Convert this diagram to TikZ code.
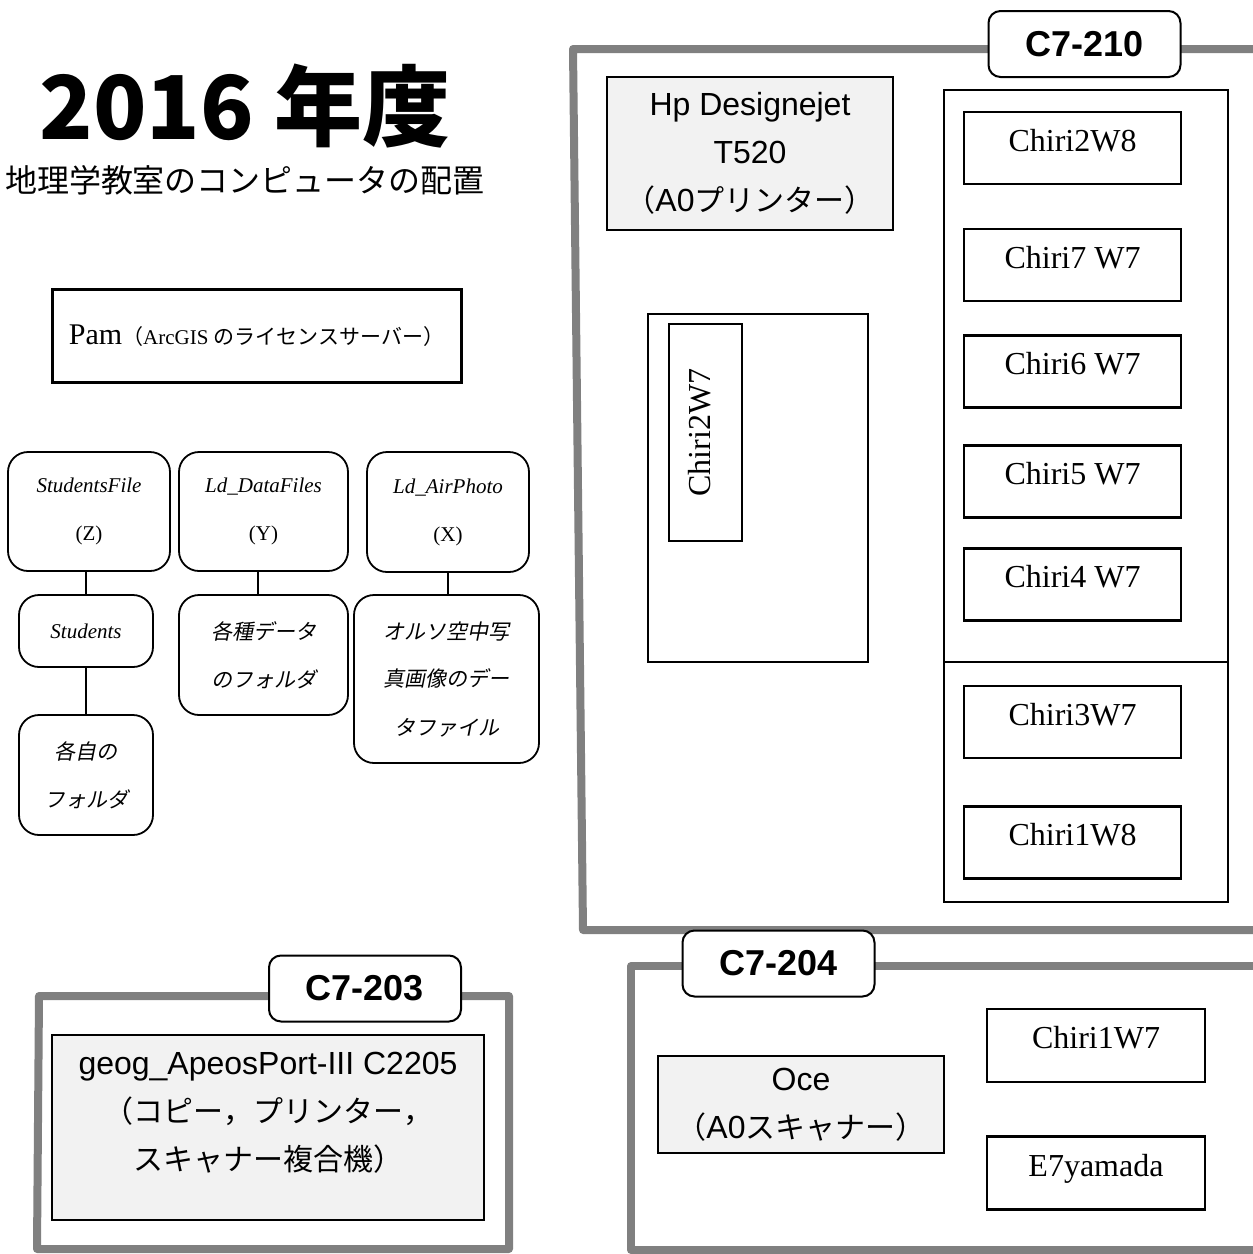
\documentclass[tikz,border=0pt]{standalone}
\usepackage{fontspec}
\setmainfont{Liberation Serif}
\setsansfont{Liberation Sans}
\newfontfamily\jp{Noto Sans CJK JP}
\newfontfamily\jpit[FakeSlant=0.2]{Noto Sans CJK JP}
\newcommand{\jpsmall}{\jp\fontsize{15}{24}\selectfont}
\definecolor{wallgray}{HTML}{808080}
\definecolor{boxgray}{HTML}{F2F2F2}

\begin{document}
\begin{tikzpicture}[x=0.5pt,y=-0.5pt,
	wall/.style={draw=wallgray,line width=4pt,line join=round},
	roomtag/.style={draw,fill=white,rounded corners=6pt,line width=1pt,minimum width=96pt,minimum height=33pt,font=\sffamily\bfseries\fontsize{18}{18}\selectfont},
	pc/.style={draw,line width=1.2pt,minimum width=108.5pt,minimum height=36pt,text depth=8pt,font=\fontsize{16}{16}\selectfont},
	device/.style={draw,fill=boxgray,line width=1pt,align=center,font=\sffamily\fontsize{16}{24}\selectfont},
	folder/.style={draw,rounded corners=10pt,line width=0.9pt,align=center,font=\itshape\fontsize{10.5}{24}\selectfont},
	link/.style={line width=0.9pt}]
	
	\useasboundingbox (0,0) rectangle (1253,1254);
	
	\node[font=\jp\bfseries\fontsize{44}{44}\selectfont] (title) at (245,106) {2016 年度};
	\node[font=\jp\fontsize{16}{16}\selectfont] (subtitle) at (245,180) {地理学教室のコンピュータの配置};
	
	\node[draw,line width=1.5pt,minimum width=204.5pt,minimum height=46.5pt] (pam) at (256.5,335.5)
	{{\fontsize{15}{15}\selectfont Pam}\fontsize{10.5}{10.5}\selectfont{\jp （}ArcGIS {\jp のライセンスサーバー）}};
	
	\node[folder,minimum width=81pt,minimum height=59.5pt] (sfile) at (89,511.5) {StudentsFile\\{\upshape (Z)}};
	\node[folder,minimum width=84.5pt,minimum height=59.5pt] (dfiles) at (263.5,511.5) {Ld\_DataFiles\\{\upshape (Y)}};
	\node[folder,minimum width=81pt,minimum height=60pt] (aphoto) at (448,512) {Ld\_AirPhoto\\{\upshape (X)}};
	\node[folder,minimum width=67pt,minimum height=36pt] (stud) at (86,631) {Students};
	\node[folder,minimum width=67pt,minimum height=60pt] (own) at (86,775) {{\jpit 各自の}\\{\jpit フォルダ}};
	\node[folder,minimum width=84.5pt,minimum height=60pt] (data) at (263.5,655) {{\jpit 各種データ}\\{\jpit のフォルダ}};
	\node[folder,minimum width=92.5pt,minimum height=84pt] (ortho) at (446.5,679) {{\jpit オルソ空中写}\\{\jpit 真画像のデー}\\{\jpit タファイル}};
	
	\draw[link] (stud.north |- sfile.south) -- (stud.north);
	\draw[link] (stud.south) -- (own.north);
	\draw[link] ([xshift=-2.75pt]data.north |- dfiles.south) -- ([xshift=-2.75pt]data.north);
	\draw[link] (aphoto.south) -- (aphoto.south |- ortho.north);
	
	\draw[wall] (573,49) -- (1265,49) -- (1265,930) -- (583,930) -- cycle;
	\draw[wall] (39,996) -- (509,996) -- (509,1249) -- (37,1249) -- cycle;
	\draw[wall] (631,966) -- (1265,966) -- (1265,1250) -- (631,1250) -- cycle;
	
	\node[roomtag] (r210) at (1084.5,44) {C7-210};
	\node[roomtag] (r203) at (365,988.5) {C7-203};
	\node[roomtag] (r204) at (778.5,963.5) {C7-204};
	
	\node[device,minimum width=143pt,minimum height=76.5pt] (hp) at (750,153.5)
	{Hp Designejet\\T520\\{\jpsmall （}A0{\jpsmall プリンター）}};
	
	\draw[line width=1pt] (944,90) rectangle (1228,902);
	\draw[line width=1pt] (944,662) -- (1228,662);
	\node[pc] (c2w8) at (1072.5,148) {Chiri2W8};
	\node[pc] (c7w7) at (1072.5,265) {Chiri7 W7};
	\node[pc] (c6w7) at (1072.5,371.5) {Chiri6 W7};
	\node[pc] (c5w7) at (1072.5,481.5) {Chiri5 W7};
	\node[pc] (c4w7) at (1072.5,584.5) {Chiri4 W7};
	\node[pc] (c3w7) at (1072.5,722) {Chiri3W7};
	\node[pc] (c1w8) at (1072.5,842.5) {Chiri1W8};
	
	\draw[line width=0.8pt] (648,314) rectangle (868,662);
	\node[pc,rotate=90,minimum width=108.5pt,minimum height=36.5pt,text depth=6pt] (c2w7) at (705.5,432.5) {Chiri2W7};
	
	\node[device,minimum width=216pt,minimum height=92.5pt] (geog) at (268,1127.5) {};
	\node[align=center,font=\sffamily\fontsize{16}{24}\selectfont] (geogtext) at ([yshift=7.5pt]geog.center)
	{geog\_ApeosPort-III C2205\\{\jpsmall （コピー，プリンター，}\\{\jpsmall スキャナー複合機）}};
	
	\node[device,minimum width=143pt,minimum height=48.5pt] (oce) at (801,1104.5)
	{Oce\\{\jpsmall （}A0{\jpsmall スキャナー）}};
	\node[pc,minimum width=109pt,minimum height=36.5pt] (c1w7) at (1096,1045.5) {Chiri1W7};
	\node[pc,minimum width=109pt,minimum height=36.5pt] (e7) at (1096,1173) {E7yamada};
	
\end{tikzpicture}
\end{document}
